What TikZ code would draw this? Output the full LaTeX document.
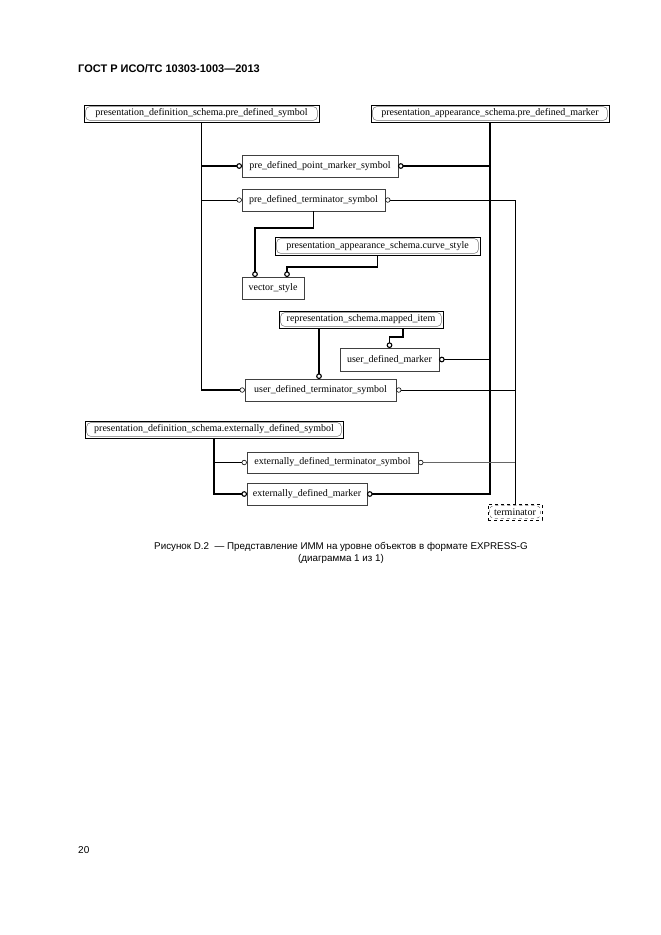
\documentclass[tikz,border=0pt]{standalone}
\usepackage{fontspec}
\setmainfont{Liberation Serif}
\newfontfamily\arial{Liberation Sans}
\newcommand\dfont{\fontsize{10}{12}\selectfont}
\begin{document}
\begin{tikzpicture}[x=1pt,y=-1pt,
  ent/.style={draw=black!75, line width=0.6pt, inner sep=0pt, font=\dfont},
  schema/.style={draw=black, line width=0.7pt, inner sep=0pt, font=\dfont},
  inner/.style={draw=black!55, line width=0.5pt, rounded corners=4pt},
  thk/.style={line width=1.8pt},
  med/.style={line width=1.2pt},
  thn/.style={line width=0.9pt},
  gthn/.style={line width=0.7pt, black!60},
  cthk/.style={line width=1.1pt, fill=white, draw=black},
  cthn/.style={line width=0.6pt, fill=white, draw=black}]
\useasboundingbox (0,0) rectangle (661,935);
\fill[white] (0,0) rectangle (661,935);

% header
\node[anchor=base west, inner sep=0pt, font=\arial\bfseries\fontsize{11}{13}\selectfont] (hdr) at (78,72) {ГОСТ Р ИСО/ТС 10303-1003—2013};

% nodes
\node[schema, minimum width=235pt, minimum height=17pt] (b1) at (201.5,113.5) {presentation\_definition\_schema.pre\_defined\_symbol};
\node[schema, minimum width=238pt, minimum height=17pt] (b2) at (490,113.5) {presentation\_appearance\_schema.pre\_defined\_marker};
\node[ent, minimum width=156pt, minimum height=22pt] (pm) at (320,166) {pre\_defined\_point\_marker\_symbol};
\node[ent, minimum width=143pt, minimum height=22pt] (pt) at (313.5,200) {pre\_defined\_terminator\_symbol};
\node[schema, minimum width=205pt, minimum height=18pt] (cs) at (377.5,246) {presentation\_appearance\_schema.curve\_style};
\node[ent, minimum width=62pt, minimum height=22pt] (vs) at (273,288) {vector\_style};
\node[schema, minimum width=164pt, minimum height=17pt] (mi) at (361,319.5) {representation\_schema.mapped\_item};
\node[ent, minimum width=99pt, minimum height=23pt] (um) at (389.5,359.5) {user\_defined\_marker};
\node[ent, minimum width=151pt, minimum height=22pt] (ut) at (320.5,390) {user\_defined\_terminator\_symbol};
\node[schema, minimum width=258pt, minimum height=17pt] (eds) at (214,429.5) {presentation\_definition\_schema.externally\_defined\_symbol};
\node[ent, minimum width=171pt, minimum height=21pt] (et) at (332.5,462.5) {externally\_defined\_terminator\_symbol};
\node[ent, minimum width=120pt, minimum height=22pt] (em) at (307,494) {externally\_defined\_marker};
\node[draw=black, dashed, line width=0.6pt, inner sep=0pt, minimum width=54pt, minimum height=16pt, font=\dfont] (term) at (515,512) {terminator};

% inner rounded frames of schema references
\foreach \n in {b1,b2,cs,mi,eds}
  \draw[inner] ([shift={(2,2)}]\n.north west) rectangle ([shift={(-2,-2)}]\n.south east);
\draw[inner, dashed] ([shift={(2,2)}]term.north west) rectangle ([shift={(-2,-2)}]term.south east);

% circle coordinates
\coordinate (pmL) at ([xshift=-2.5pt]pm.west);
\coordinate (pmR) at ([xshift=2.5pt]pm.east);
\coordinate (ptL) at ([xshift=-2.5pt]pt.west);
\coordinate (ptR) at ([xshift=2.5pt]pt.east);
\coordinate (vsT1) at ([xshift=-18pt,yshift=2.5pt]vs.north);
\coordinate (vsT2) at ([xshift=14pt,yshift=2.5pt]vs.north);
\coordinate (umT) at ([yshift=2.5pt]um.north);
\coordinate (umR) at ([xshift=2.5pt]um.east);
\coordinate (utL) at ([xshift=-2.5pt]ut.west);
\coordinate (utR) at ([xshift=2.5pt]ut.east);
\coordinate (utT) at ([xshift=-1.5pt,yshift=2.5pt]ut.north);
\coordinate (etL) at ([xshift=-2.5pt]et.west);
\coordinate (etR) at ([xshift=2.5pt]et.east);
\coordinate (emL) at ([xshift=-2.5pt]em.west);
\coordinate (emR) at ([xshift=2.5pt]em.east);
\coordinate (miB) at ([xshift=42pt]mi.south);

% left trunk
\draw[med] (b1.south) -- (b1.south |- utL) -- (utL);
\draw[thk] (b1.south) -- (b1.south |- pt.west);
\draw[thk] (b1.south |- pmL) -- (pmL);
\draw[thn] (b1.south |- ptL) -- (ptL);
% right trunk
\draw[thk] (b2.south) -- (b2.south |- emR) -- (emR);
\draw[thk] (pmR) -- (pmR -| b2.south);
\draw[thk] (umR) -- (umR -| b2.south);
% terminator lines
\draw[thn] (ptR) -- (ptR -| term.north) -- (term.north);
\draw[thn] (utR) -- (utR -| term.north);
\draw[gthn] (etR) -- (etR -| term.north);
% vector_style
\draw[thk] (pt.south) -- ++(0,17) -| (vsT1);
\draw[thk] (cs.south) -- ++(0,12) -| (vsT2);
% mapped_item
\draw[thk] (mi.south -| utT) -- (utT);
\draw[thk] (miB) -- ++(0,9) -| (umT);
% externally defined
\draw[thk] (eds.south) -- (eds.south |- emL) -- (emL);
\draw[thn] (eds.south |- etL) -- (etL);

% circles
\foreach \c in {pmL,pmR,vsT1,vsT2,umT,umR,utT,emL,emR}
  \draw[cthk] (\c) circle (2.3pt);
\foreach \c in {ptL,ptR,utL,utR,etL,etR}
  \draw[cthn] (\c) circle (2.3pt);

% caption
\node[align=center, inner sep=0pt, font=\arial\fontsize{9.8}{12}\selectfont] (cap) at (341,553) {Рисунок D.2~~— Представление ИММ на уровне объектов в формате EXPRESS-G\\(диаграмма 1 из 1)};
\node[anchor=base west, inner sep=0pt, font=\arial\fontsize{10}{12}\selectfont] (pg) at (78,853) {20};
\end{tikzpicture}
\end{document}
